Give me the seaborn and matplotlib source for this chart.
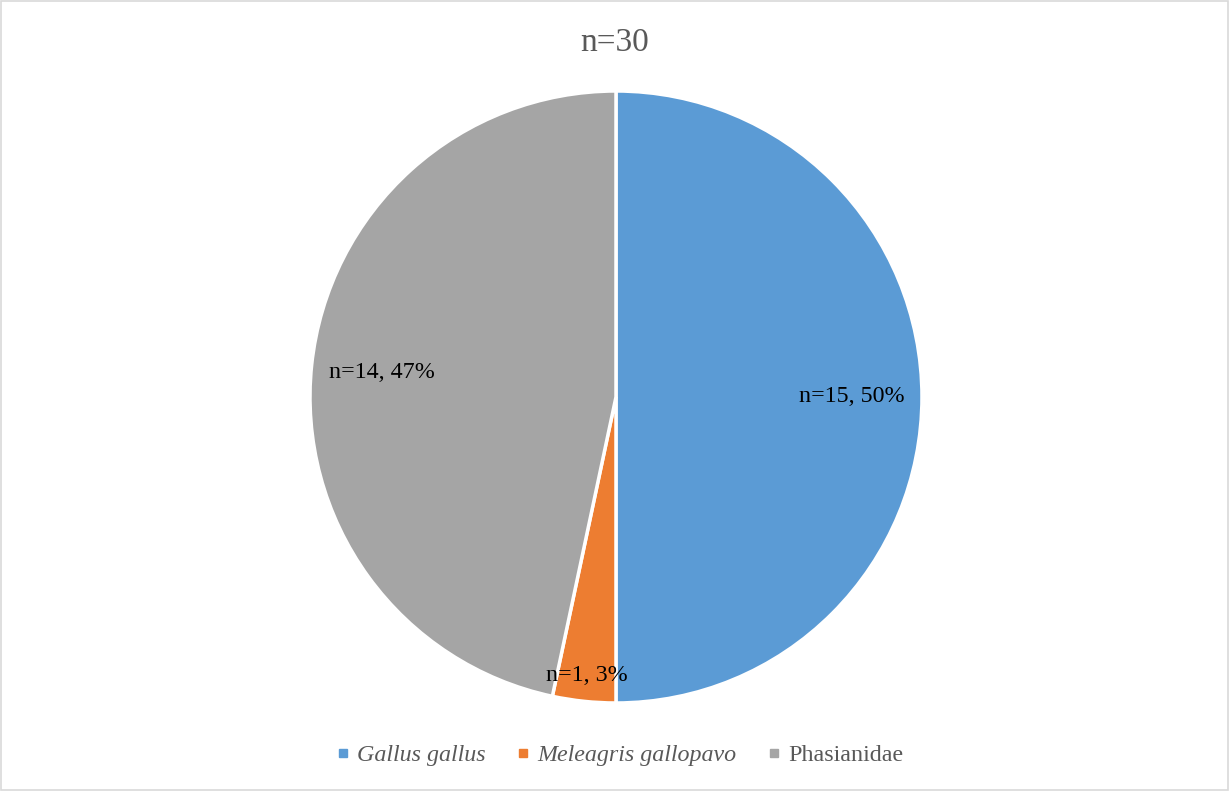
import numpy as np
import matplotlib
matplotlib.use("Agg")
import matplotlib.pyplot as plt
from matplotlib.lines import Line2D
from matplotlib.patches import Rectangle
import seaborn as sns

# Species breakdown of the sampled birds
categories = ["Gallus gallus", "Meleagris gallopavo", "Phasianidae"]
counts = [15, 1, 14]
italic = [True, True, False]
colors = ["#5B9BD5", "#ED7D31", "#A5A5A5"]
title_text = "n=30"

sns.set_theme(style="white")
plt.rcParams["font.family"] = ["Liberation Serif", "DejaVu Serif"]

fig = plt.figure(figsize=(12.3, 7.92), dpi=100)
ax = fig.add_axes([0.2520, 0.1124, 0.4976, 0.7727])

total = sum(counts)
wedges, _ = ax.pie(
    counts,
    colors=colors,
    startangle=90,
    counterclock=False,
    radius=1.0,
    wedgeprops=dict(edgecolor="white", linewidth=2.5),
)
ax.set_xlim(-1, 1)
ax.set_ylim(-1, 1)
ax.set_aspect("equal")
ax.axis("off")

# Data labels: count and share, placed along each wedge's bisector
label_dist = [0.77, 0.915, 0.77]
for w, n, d in zip(wedges, counts, label_dist):
    ang = np.deg2rad((w.theta1 + w.theta2) / 2)
    pct = round(100 * n / total)
    ax.text(d * np.cos(ang), d * np.sin(ang), f"n={n}, {pct}%",
            ha="center", va="center", fontsize=17.3, color="black")

fig.text(0.5, 1 - 43 / 792, title_text, ha="center", va="center",
         fontsize=24, color="#595959")

handles = [Line2D([0], [0], marker="s", linestyle="none", markersize=6,
                  markerfacecolor=c, markeredgecolor=c) for c in colors]
leg = fig.legend(handles, categories, loc="center", ncol=3,
                 bbox_to_anchor=(0.503, 1 - 755 / 792), frameon=False,
                 fontsize=17.3, handletextpad=0.25, columnspacing=1.2,
                 handlelength=0.7)
for t, it in zip(leg.get_texts(), italic):
    t.set_color("#595959")
    if it:
        t.set_style("italic")

# Thin chart-area border
fig.patches.append(Rectangle((0.001, 0.003), 0.997, 0.996, transform=fig.transFigure,
                             fill=False, edgecolor="#D9D9D9", linewidth=1.2))

fig.savefig("out.png", dpi=100, facecolor="white")
